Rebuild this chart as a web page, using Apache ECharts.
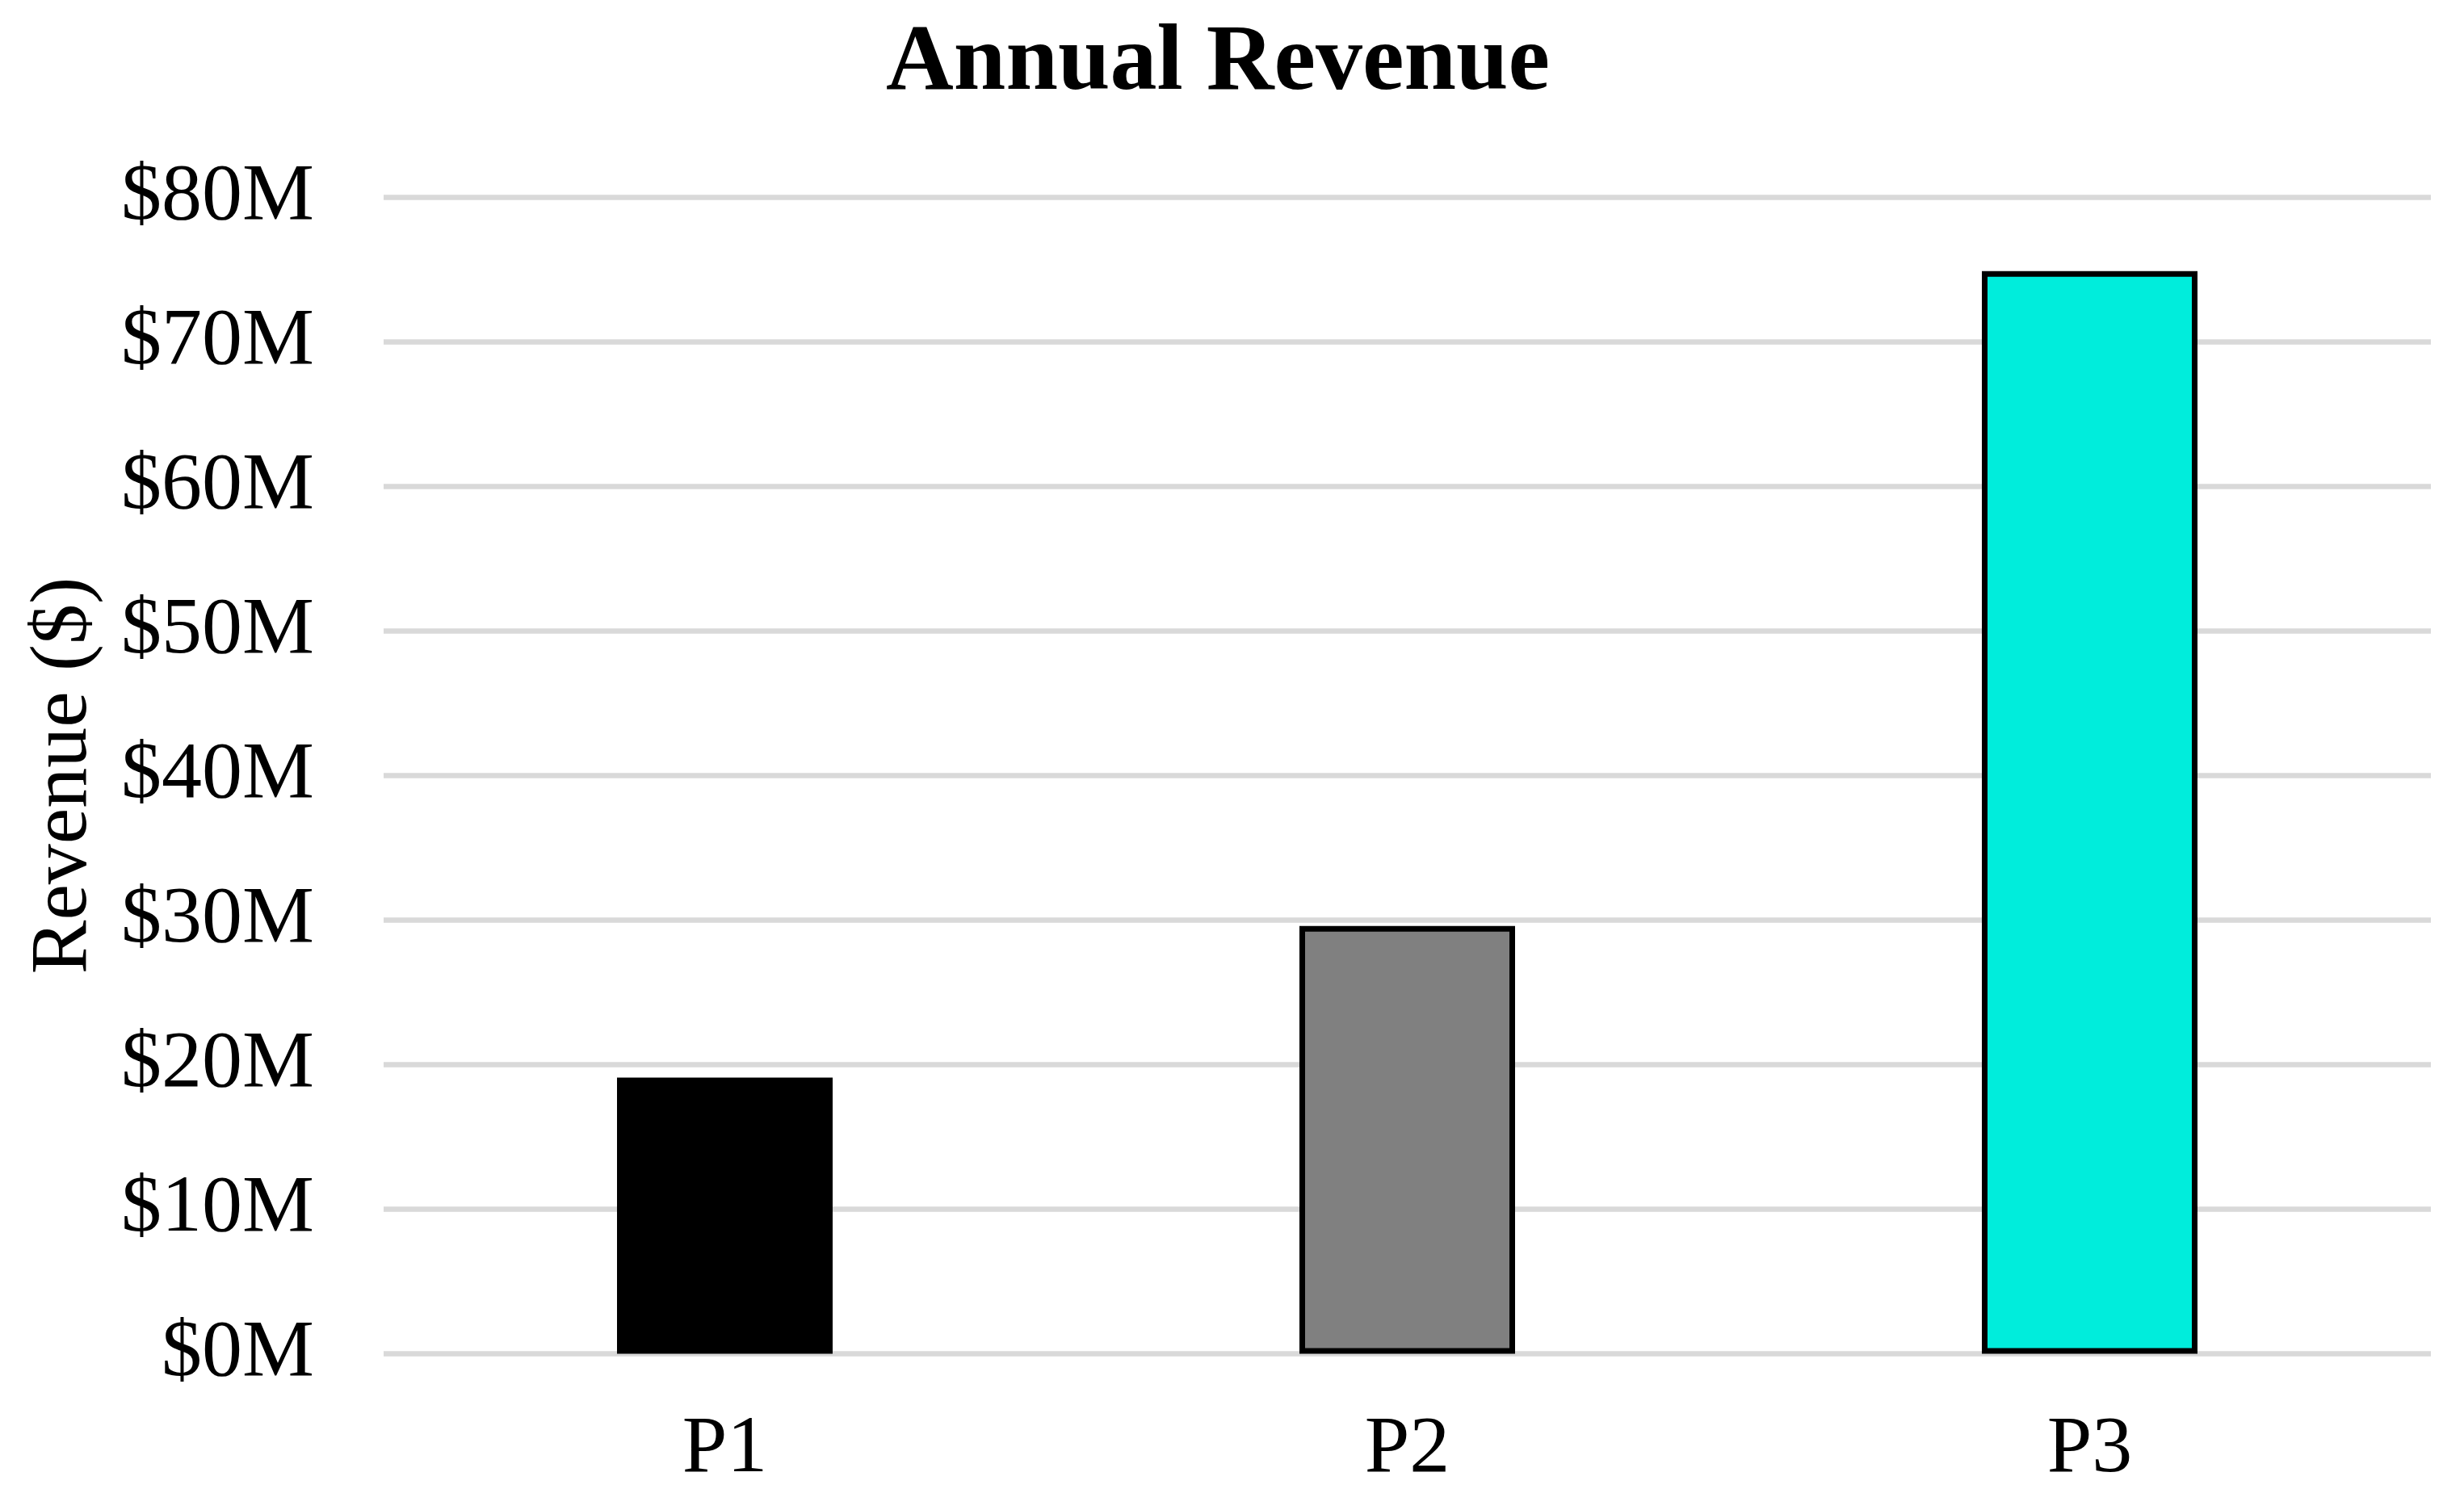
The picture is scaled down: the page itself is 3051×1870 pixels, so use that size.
<!DOCTYPE html>
<html>
<head>
<meta charset="utf-8">
<script src="https://cdn.jsdelivr.net/npm/echarts@6/dist/echarts.min.js"></script>
<style>html,body{margin:0;padding:0;background:#fff}#c{width:3051px;height:1870px}</style>
</head>
<body>
<div id="c"></div>
<script>
const categories = ['P1', 'P2', 'P3'];
const revenueM = [19.1, 29.6, 74.9];
const barColors = ['#000000', '#808080', '#00EDDC'];
const yTicks = [0, 10, 20, 30, 40, 50, 60, 70, 80];

const font = '"Liberation Serif", "Times New Roman", serif';
const chart = echarts.init(document.getElementById('c'));
chart.setOption({
  backgroundColor: '#ffffff',
  animation: false,
  title: {
    text: 'Annual Revenue',
    left: 1503, top: 17,
    textAlign: 'center',
    textStyle: { fontFamily: font, fontSize: 116, fontWeight: 'bold', color: '#000' }
  },
  grid: { left: 475, right: 41, top: 244.5, bottom: 193.5, containLabel: false },
  xAxis: {
    type: 'category',
    data: categories,
    axisLine: { show: false },
    axisTick: { show: false },
    axisLabel: { fontFamily: font, fontSize: 100, color: '#000', margin: 69 }
  },
  yAxis: {
    type: 'value',
    min: yTicks[0], max: yTicks[yTicks.length - 1], interval: 10,
    name: 'Revenue ($)',
    nameLocation: 'middle',
    nameGap: 345,
    nameTextStyle: { fontFamily: font, fontSize: 100, color: '#000' },
    axisLine: { show: false },
    axisTick: { show: false },
    axisLabel: { fontFamily: font, fontSize: 100, color: '#000', margin: 86, formatter: v => '$' + v + 'M' },
    splitLine: { lineStyle: { color: '#d9d9d9', width: 6.5 } }
  },
  series: [{
    type: 'bar',
    barWidth: 267,
    data: revenueM.map((v, i) => ({
      value: v,
      itemStyle: { color: barColors[i], borderColor: '#000', borderWidth: 7 }
    }))
  }]
});
</script>
</body>
</html>
